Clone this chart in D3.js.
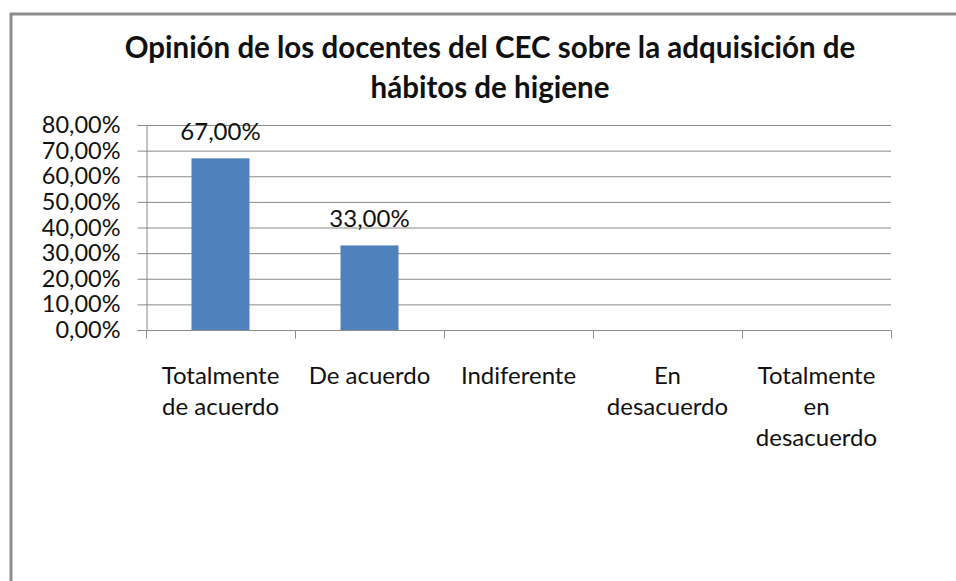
<!DOCTYPE html>
<html>
<head>
<meta charset="utf-8">
<script src="https://cdn.jsdelivr.net/npm/d3@7"></script>
<style>
  html, body { margin: 0; padding: 0; background: #fff; }
  svg { display: block; font-family: Lato, "Open Sans", sans-serif; }
</style>
</head>
<body>
<div id="chart"></div>
<script>
// data
const categories = [
  ["Totalmente", "de acuerdo"],
  ["De acuerdo"],
  ["Indiferente"],
  ["En", "desacuerdo"],
  ["Totalmente", "en", "desacuerdo"]
];
const values = [67, 33, null, null, null];
const yTicks = [0, 10, 20, 30, 40, 50, 60, 70, 80];
const titleLines = [
  "Opinión de los docentes del CEC sobre la adquisición de",
  "hábitos de higiene"
];

const W = 956, H = 581;
const plot = { left: 146, right: 891, top: 125, bottom: 330 };

const svg = d3.select("#chart").append("svg")
  .attr("width", W).attr("height", H);

// chart frame
svg.append("path")
  .attr("d", `M11,${H} L11,14 L${W},14`)
  .attr("fill", "none")
  .attr("stroke", "#8c8c8c")
  .attr("stroke-width", 3);

// title
svg.append("text")
  .attr("text-anchor", "middle")
  .attr("font-size", 29.5)
  .attr("font-weight", "bold")
  .attr("fill", "#111")
  .selectAll("tspan")
  .data(titleLines)
  .join("tspan")
  .attr("x", 490)
  .attr("y", (d, i) => 58 + i * 40)
  .text(d => d);

const x = d3.scaleBand()
  .domain(d3.range(categories.length))
  .range([plot.left, plot.right]);

const y = d3.scaleLinear()
  .domain([0, 80])
  .range([plot.bottom, plot.top]);

// gridlines
svg.append("g")
  .selectAll("line")
  .data(yTicks.filter(d => d > 0))
  .join("line")
  .attr("x1", plot.left).attr("x2", plot.right)
  .attr("y1", d => y(d) + 0.5).attr("y2", d => y(d) + 0.5)
  .attr("stroke", "#8a8a8a")
  .attr("stroke-width", 1);

// y axis
const fmt = d => d.toFixed(2).replace(".", ",") + "%";
svg.append("g")
  .attr("transform", `translate(${plot.left + 0.5},0)`)
  .call(d3.axisLeft(y).tickValues(yTicks).tickSize(9).tickPadding(17).tickFormat(fmt))
  .call(g => g.select(".domain").attr("stroke", "#8a8a8a"))
  .call(g => g.selectAll(".tick line").attr("stroke", "#8a8a8a"))
  .call(g => g.selectAll(".tick text")
    .attr("font-family", "Lato, sans-serif")
    .attr("font-size", 23.5)
    .attr("fill", "#111"));

// x axis
const xAxis = svg.append("g")
  .attr("transform", `translate(0,${plot.bottom + 0.5})`);
xAxis.append("line")
  .attr("x1", plot.left).attr("x2", plot.right)
  .attr("stroke", "#8a8a8a");
xAxis.selectAll(".xtick")
  .data(d3.range(categories.length + 1))
  .join("line")
  .attr("class", "xtick")
  .attr("x1", i => (i < categories.length ? x(i) : x(i - 1) + x.bandwidth()) + 0.5)
  .attr("x2", i => (i < categories.length ? x(i) : x(i - 1) + x.bandwidth()) + 0.5)
  .attr("y1", 0).attr("y2", 8)
  .attr("stroke", "#8a8a8a");

// category labels
svg.append("g")
  .selectAll("text")
  .data(categories)
  .join("text")
  .attr("text-anchor", "middle")
  .attr("font-size", 24)
  .attr("fill", "#111")
  .each(function (lines, i) {
    d3.select(this).selectAll("tspan")
      .data(lines)
      .join("tspan")
      .attr("x", x(i) + x.bandwidth() / 2)
      .attr("y", (d, j) => 384 + j * 31)
      .text(d => d);
  });

// bars
const barW = 58;
const barData = values.map((v, i) => ({ i, v })).filter(d => d.v != null);
svg.append("g")
  .selectAll("rect")
  .data(barData)
  .join("rect")
  .attr("x", d => x(d.i) + x.bandwidth() / 2 - barW / 2)
  .attr("y", d => y(d.v))
  .attr("width", barW)
  .attr("height", d => y(0) - y(d.v))
  .attr("fill", "#4f81bd");

// value labels
svg.append("g")
  .selectAll("text")
  .data(barData)
  .join("text")
  .attr("x", d => x(d.i) + x.bandwidth() / 2)
  .attr("y", d => y(d.v) - 18)
  .attr("text-anchor", "middle")
  .attr("font-size", 24)
  .attr("fill", "#111")
  .text(d => fmt(d.v));
</script>
</body>
</html>
